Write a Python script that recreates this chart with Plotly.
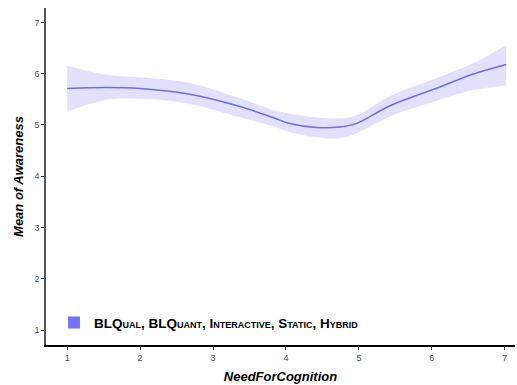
import plotly.graph_objects as go

# Data
x_vals = [1.0, 1.54, 2.0, 2.68, 3.37, 3.83, 4.05, 4.42, 4.74, 4.97, 5.42, 6.11, 6.56, 7.02]
y_mean = [5.71, 5.73, 5.71, 5.60, 5.36, 5.14, 5.03, 4.95, 4.96, 5.03, 5.37, 5.74, 5.99, 6.18]
y_upper = [6.16, 5.98, 5.93, 5.82, 5.52, 5.29, 5.22, 5.15, 5.13, 5.19, 5.56, 5.94, 6.20, 6.56]
y_lower = [5.26, 5.49, 5.51, 5.41, 5.15, 4.97, 4.86, 4.76, 4.74, 4.84, 5.16, 5.49, 5.68, 5.77]
legend_label = "BLQual, BLQuant, Interactive, Static, Hybrid"
x_ticks = [1, 2, 3, 4, 5, 6, 7]
y_ticks = [1, 2, 3, 4, 5, 6, 7]

line_color = "#6b6bf7"
band_color = "rgba(107,107,247,0.2)"

fig = go.Figure()
fig.add_trace(go.Scatter(x=x_vals, y=y_upper, mode="lines", line=dict(width=0, shape="spline"),
                         showlegend=False, hoverinfo="skip"))
fig.add_trace(go.Scatter(x=x_vals, y=y_lower, mode="lines", line=dict(width=0, shape="spline"),
                         fill="tonexty", fillcolor=band_color, showlegend=False, hoverinfo="skip"))
fig.add_trace(go.Scatter(x=x_vals, y=y_mean, mode="lines", line=dict(color=line_color, width=1.5, shape="spline"),
                         showlegend=False))
fig.add_trace(go.Scatter(x=[None], y=[None], mode="markers", name=legend_label,
                         marker=dict(symbol="square", size=12, color="#7373ff")))

fig.update_layout(
    width=517, height=385,
    margin=dict(l=46, r=2, t=8, b=40),
    plot_bgcolor="white", paper_bgcolor="white",
    font=dict(family="Liberation Sans, Arial, sans-serif", color="#000"),
    showlegend=True,
    legend=dict(x=0.017, y=0.02, xanchor="left", yanchor="bottom", bgcolor="rgba(0,0,0,0)",
                font=dict(size=13.5, weight="bold", variant="small-caps", color="#000"),
                itemwidth=30),
    xaxis=dict(range=[0.71, 7.14], tickvals=x_ticks, showgrid=False, zeroline=False,
               showline=True, linecolor="#000", linewidth=1.5, ticks="outside", ticklen=3,
               tickcolor="#333", tickfont=dict(size=9, color="#4d4d4d"),
               title=dict(text="NeedForCognition", font=dict(size=13, weight="bold", style="italic"), standoff=10)),
    yaxis=dict(range=[0.71, 7.28], tickvals=y_ticks, showgrid=False, zeroline=False,
               showline=True, linecolor="#555", linewidth=1.5, ticks="outside", ticklen=3,
               tickcolor="#333", tickfont=dict(size=9, color="#4d4d4d"),
               title=dict(text="Mean of Awareness", font=dict(size=13, weight="bold", style="italic"), standoff=8)),
)

fig.write_html("out.html")
